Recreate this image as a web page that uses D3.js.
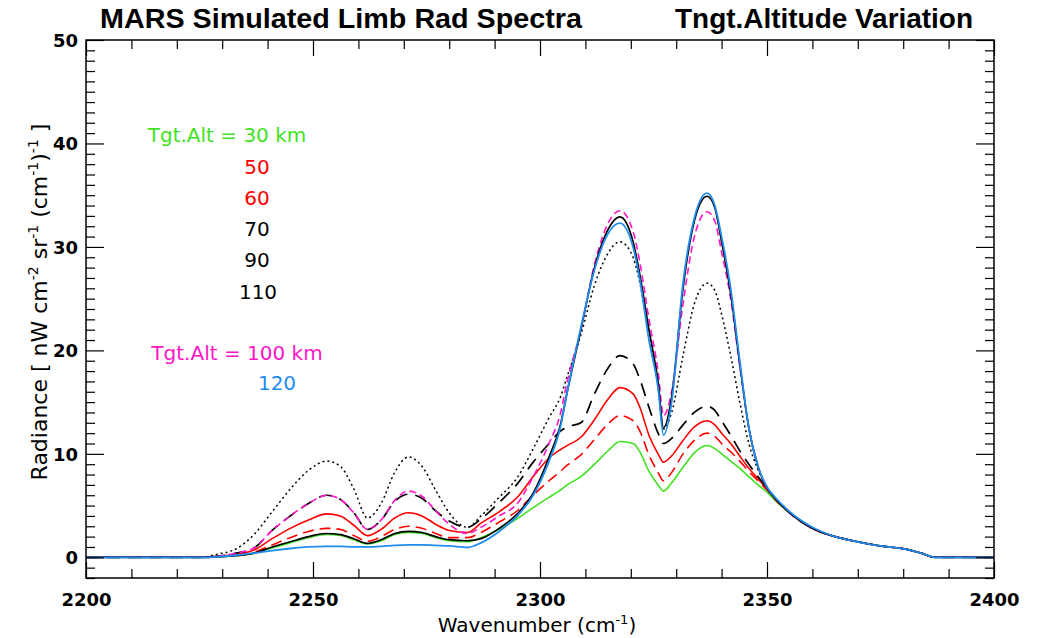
<!DOCTYPE html>
<html>
<head>
<meta charset="utf-8">
<script src="https://cdn.jsdelivr.net/npm/d3@7"></script>
<style>
  body { margin: 0; background: #fff; }
  svg { display: block; }
</style>
</head>
<body>
<div id="chart"></div>
<script>
// wavenumber grid (cm-1) shared by all spectra
const wavenumbers = [2200, 2225, 2229, 2233, 2237, 2241, 2245, 2249, 2253, 2256, 2259, 2262, 2265, 2268, 2271, 2274, 2277, 2280, 2284, 2287,
  2291, 2295, 2298.5, 2302, 2304.5, 2306, 2309, 2312, 2315, 2317.6, 2320.5, 2322, 2324, 2326, 2327.2, 2329, 2331.5, 2334, 2336.8, 2338.5,
  2340, 2342, 2344, 2346, 2348, 2350, 2352, 2355, 2360, 2365, 2370, 2375, 2378, 2381, 2384, 2387, 2400]

const rad_30 = [0, 0, 0.05, 0.15, 0.4, 0.9, 1.4, 1.9, 2.2, 2.1, 1.7, 1.3, 1.6, 2.2, 2.4, 2.3, 1.9, 1.6, 1.5, 1.9,
  2.7, 3.75, 4.8, 5.8, 6.5, 7.0, 7.8, 9.0, 10.3, 11.2, 11.0, 10.2, 8.3, 7.0, 6.4, 7.2, 8.7, 10.1, 10.8, 10.5,
  10.0, 9.3, 8.6, 7.8, 7.0, 6.3, 5.4, 4.3, 2.8, 2.0, 1.5, 1.1, 0.95, 0.75, 0.4, 0, 0]
const rad_50 = [0, 0, 0.1, 0.3, 0.7, 1.8, 2.8, 3.6, 4.2, 4.0, 3.1, 2.1, 2.7, 3.8, 4.3, 4.0, 3.2, 2.6, 2.4, 3.3,
  4.4, 5.8, 7.8, 9.6, 10.4, 10.8, 11.6, 13.3, 15.3, 16.4, 15.8, 14.5, 11.8, 10.0, 9.2, 9.8, 11.3, 12.6, 13.2, 12.8,
  12.0, 11.0, 9.8, 8.6, 7.6, 6.6, 5.6, 4.3, 2.8, 2.0, 1.5, 1.1, 0.95, 0.75, 0.4, 0, 0]
const rad_60 = [0, 0, 0.05, 0.2, 0.5, 1.2, 1.9, 2.5, 2.8, 2.7, 2.1, 1.55, 2.0, 2.7, 3.0, 2.8, 2.3, 1.9, 1.9, 2.4,
  3.4, 4.5, 6.0, 7.4, 8.3, 8.9, 9.9, 11.4, 12.9, 13.7, 13.2, 12.2, 9.9, 8.2, 7.4, 8.2, 10.0, 11.3, 12.0, 11.7,
  11.0, 10.2, 9.3, 8.3, 7.4, 6.5, 5.5, 4.3, 2.8, 2.0, 1.5, 1.1, 0.95, 0.75, 0.4, 0, 0]
const rad_70 = [0, 0, 0.05, 0.15, 0.4, 1.0, 1.5, 2.0, 2.3, 2.2, 1.8, 1.35, 1.7, 2.3, 2.5, 2.4, 2.0, 1.7, 1.6, 1.8,
  2.8, 4.2, 6.2, 9.7, 12.8, 16.0, 22.0, 28.0, 31.7, 32.9, 30.5, 27.3, 22.0, 17.0, 12.5, 15.5, 26.0, 32.5, 34.9, 33.8,
  30.5, 25.5, 18.7, 12.5, 8.8, 6.7, 5.6, 4.3, 2.8, 2.0, 1.5, 1.1, 0.95, 0.75, 0.4, 0, 0]
const rad_90 = [0, 0, 0.1, 0.4, 0.9, 2.6, 4.0, 5.2, 6.0, 5.6, 4.3, 2.7, 3.6, 5.4, 6.1, 5.7, 4.5, 3.5, 2.9, 3.7,
  5.3, 7.1, 9.2, 11.0, 12.2, 12.6, 13.0, 15.8, 18.3, 19.5, 18.7, 17.2, 14.5, 12.0, 11.0, 11.5, 12.8, 14.0, 14.6, 14.2,
  13.2, 11.8, 10.3, 9.0, 7.8, 6.7, 5.6, 4.3, 2.8, 2.0, 1.5, 1.1, 0.95, 0.75, 0.4, 0, 0]
const rad_110 = [0, 0, 0.3, 0.8, 2.2, 4.4, 6.6, 8.4, 9.3, 8.8, 6.6, 3.8, 5.2, 8.2, 9.7, 8.8, 6.5, 4.3, 2.9, 4.0,
  5.8, 7.7, 10.5, 13.5, 15.5, 17.5, 21.5, 26.3, 29.4, 30.5, 29.0, 26.5, 21.5, 16.5, 12.4, 14.0, 19.5, 24.5, 26.5, 25.8,
  23.5, 19.5, 15.0, 11.0, 8.5, 6.8, 5.6, 4.3, 2.8, 2.0, 1.5, 1.1, 0.95, 0.75, 0.4, 0, 0]
const rad_100b = [0, 0, 0.1, 0.4, 0.9, 2.6, 4.0, 5.2, 6.0, 5.6, 4.3, 2.7, 3.6, 5.5, 6.4, 5.9, 4.5, 3.2, 2.3, 2.9,
  4.0, 5.2, 7.8, 11.0, 13.9, 17.0, 22.0, 28.3, 32.3, 33.5, 31.5, 28.5, 23.0, 18.0, 13.7, 16.0, 24.5, 31.0, 33.4, 32.5,
  29.5, 25.0, 18.5, 12.5, 8.8, 6.7, 5.6, 4.3, 2.8, 2.0, 1.5, 1.1, 0.95, 0.75, 0.4, 0, 0]
const rad_120b = [0, 0, 0.05, 0.2, 0.4, 0.65, 0.85, 1.0, 1.05, 1.05, 1.0, 1.0, 1.05, 1.15, 1.2, 1.2, 1.15, 1.1, 0.95, 1.4,
  2.5, 4.0, 6.0, 9.3, 12.6, 16.0, 22.2, 27.8, 31.3, 32.3, 30.0, 26.8, 21.0, 16.4, 11.8, 15.0, 26.5, 32.8, 35.2, 34.0,
  31.0, 26.0, 19.0, 12.5, 8.8, 6.8, 5.7, 4.4, 2.9, 2.0, 1.5, 1.1, 0.95, 0.75, 0.4, 0, 0]

const x_ticks = [2200, 2250, 2300, 2350, 2400]
const y_ticks = [0, 10, 20, 30, 40, 50]

const title_left = "MARS  Simulated Limb Rad Spectra"
const title_right = "Tngt.Altitude Variation"

// draw order: blue last so the zero baseline shows blue
const series = [
  {name: "30", values: rad_30, color: "#3fe31f", dash: null, width: 1.6},
  {name: "50", values: rad_50, color: "#ff0000", dash: null, width: 1.6},
  {name: "60", values: rad_60, color: "#ff0000", dash: "11,6", width: 1.6},
  {name: "90", values: rad_90, color: "#000000", dash: "13,8", width: 1.7},
  {name: "110", values: rad_110, color: "#000000", dash: "2,3", width: 1.5},
  {name: "100", values: rad_100b, color: "#ff14c8", dash: "7,4", width: 1.6},
  {name: "70", values: rad_70, color: "#000000", dash: null, width: 1.7},
  {name: "120", values: rad_120b, color: "#1e8cf0", dash: null, width: 1.8},
]

const legend_items = [
  {text: "Tgt.Alt = 30 km", color: "#3fe31f", x: 227, y: 135},
  {text: "50", color: "#ff0000", x: 257, y: 167},
  {text: "60", color: "#ff0000", x: 257, y: 198},
  {text: "70", color: "#000000", x: 257, y: 229},
  {text: "90", color: "#000000", x: 257, y: 260},
  {text: "110", color: "#000000", x: 258, y: 292},
  {text: "Tgt.Alt = 100 km", color: "#ff14c8", x: 237, y: 353},
  {text: "120", color: "#1e8cf0", x: 277, y: 383},
]

const W = 1039, H = 638
const margin = {top: 40, right: 45, bottom: 60, left: 86}
const x0 = margin.left, x1 = W - margin.right, y0 = H - margin.bottom, y1 = margin.top

const svg = d3.select("#chart").append("svg")
  .attr("width", W).attr("height", H)
  .style("font-family", "'DejaVu Sans', sans-serif")

const x = d3.scaleLinear().domain([2200, 2400]).range([x0, x1])
const y = d3.scaleLinear().domain([-2, 50]).range([y0, y1])

const x_minor = d3.range(2200, 2401, 10).filter(v => v % 50 !== 0)
const y_minor = d3.range(-2, 51, 1).filter(v => v % 10 !== 0)

// clip for curves
svg.append("clipPath").attr("id", "plotclip")
  .append("rect").attr("x", x0).attr("y", y1).attr("width", x1 - x0).attr("height", y0 - y1)

const line = d3.line()
  .x((d, i) => x(wavenumbers[i]))
  .y(d => y(d))
  .curve(d3.curveMonotoneX)

const curves = svg.append("g").attr("clip-path", "url(#plotclip)")
series.forEach(s => {
  curves.append("path")
    .datum(s.values)
    .attr("fill", "none")
    .attr("stroke", s.color)
    .attr("stroke-width", s.width)
    .attr("stroke-dasharray", s.dash)
    .attr("d", line)
})

// axes, ticks pointing inward on all four sides
function style_axis(g) {
  g.select(".domain").remove()
  g.selectAll(".tick line").attr("stroke", "#000").attr("stroke-width", 1.2)
}

svg.append("g").attr("transform", "translate(0," + y0 + ")")
  .call(d3.axisBottom(x).tickValues(x_ticks).tickSize(-16).tickPadding(15).tickFormat(d3.format("d")))
  .call(style_axis)
  .call(g => g.selectAll("text").attr("font-size", 18).attr("font-weight", "bold").attr("fill", "#000")
    .attr("font-family", "'DejaVu Sans', sans-serif"))
svg.append("g").attr("transform", "translate(0," + y0 + ")")
  .call(d3.axisBottom(x).tickValues(x_minor).tickSize(-9).tickFormat(""))
  .call(style_axis)
svg.append("g").attr("transform", "translate(0," + y1 + ")")
  .call(d3.axisTop(x).tickValues(x_ticks).tickSize(-16).tickFormat(""))
  .call(style_axis)
svg.append("g").attr("transform", "translate(0," + y1 + ")")
  .call(d3.axisTop(x).tickValues(x_minor).tickSize(-9).tickFormat(""))
  .call(style_axis)

svg.append("g").attr("transform", "translate(" + x0 + ",0)")
  .call(d3.axisLeft(y).tickValues(y_ticks).tickSize(-18).tickPadding(8))
  .call(style_axis)
  .call(g => g.selectAll("text").attr("font-size", 18).attr("font-weight", "bold").attr("fill", "#000")
    .attr("dy", "0.36em").attr("font-family", "'DejaVu Sans', sans-serif"))
svg.append("g").attr("transform", "translate(" + x0 + ",0)")
  .call(d3.axisLeft(y).tickValues(y_minor).tickSize(-9).tickFormat(""))
  .call(style_axis)
svg.append("g").attr("transform", "translate(" + x1 + ",0)")
  .call(d3.axisRight(y).tickValues(y_ticks).tickSize(-18).tickFormat(""))
  .call(style_axis)
svg.append("g").attr("transform", "translate(" + x1 + ",0)")
  .call(d3.axisRight(y).tickValues(y_minor).tickSize(-9).tickFormat(""))
  .call(style_axis)

svg.append("rect")
  .attr("x", x0).attr("y", y1).attr("width", x1 - x0).attr("height", y0 - y1)
  .attr("fill", "none").attr("stroke", "#000").attr("stroke-width", 1.5)

// titles
svg.append("text").attr("x", 100).attr("y", 28)
  .attr("font-family", "'Liberation Sans Narrow', 'Liberation Sans', sans-serif")
  .attr("font-weight", "bold").attr("font-size", 27)
  .attr("textLength", 482).attr("lengthAdjust", "spacingAndGlyphs")
  .text(title_left)
svg.append("text").attr("x", 675).attr("y", 28)
  .attr("font-family", "'Liberation Sans Narrow', 'Liberation Sans', sans-serif")
  .attr("font-weight", "bold").attr("font-size", 27)
  .attr("textLength", 298).attr("lengthAdjust", "spacingAndGlyphs")
  .text(title_right)

// x axis title
const xt = svg.append("text").attr("x", 537).attr("y", 632)
  .attr("text-anchor", "middle").attr("font-size", 20)
xt.append("tspan").text("Wavenumber (cm")
xt.append("tspan").attr("dy", -8).attr("font-size", 13).text("-1")
xt.append("tspan").attr("dy", 8).text(")")

// y axis title
const yt = svg.append("text")
  .attr("transform", "translate(47,302) rotate(-90)")
  .attr("text-anchor", "middle").attr("font-size", 22)
yt.append("tspan").text("Radiance [ nW cm")
yt.append("tspan").attr("dy", -9).attr("font-size", 14).text("-2")
yt.append("tspan").attr("dy", 9).text(" sr")
yt.append("tspan").attr("dy", -9).attr("font-size", 14).text("-1")
yt.append("tspan").attr("dy", 9).text(" (cm")
yt.append("tspan").attr("dy", -9).attr("font-size", 14).text("-1")
yt.append("tspan").attr("dy", 9).text(")")
yt.append("tspan").attr("dy", -9).attr("font-size", 14).text("-1")
yt.append("tspan").attr("dy", 9).text(" ]")

// legend
svg.append("g").selectAll("text")
  .data(legend_items)
  .enter()
  .append("text")
  .attr("x", d => d.x)
  .attr("y", d => d.y)
  .attr("dy", "0.36em")
  .attr("text-anchor", "middle")
  .attr("font-size", 20)
  .attr("fill", d => d.color)
  .text(d => d.text)
</script>
</body>
</html>
